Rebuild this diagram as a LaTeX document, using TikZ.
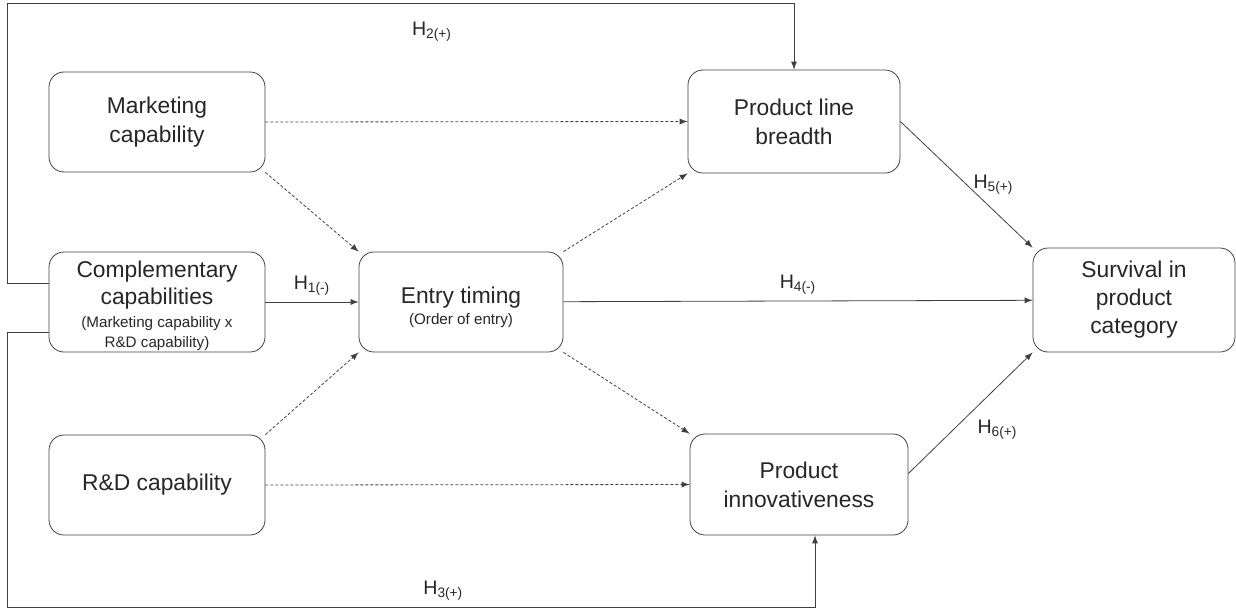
\documentclass[tikz,border=0pt]{standalone}
\usepackage{fontspec}
\setmainfont{Liberation Sans}
\usepackage{tikz}
\usetikzlibrary{arrows}

\newcommand{\smallnote}{\fontsize{7.6}{9.5}\selectfont}

\begin{document}
\begin{tikzpicture}[x=0.5pt,y=-0.5pt,
		box/.style={rectangle,draw=black!75,rounded corners=7.5pt,align=center,text=black!85,inner sep=0pt,font=\fontsize{11.4}{14.5}\selectfont},
		hlab/.style={text=black!85,font=\fontsize{9.8}{11}\selectfont},
		direct/.style={black!75,-latex},
		indirect/.style={black!75,-latex,dash pattern=on 1.5pt off 1pt}]
		\useasboundingbox (0,0) rectangle (1236,610);
%		\draw[help lines] (0,0) grid[step=50] (1236,610);
		\path (7,3) coordinate (h2turn);
		\path (7,607) coordinate (h3turn);

		\path (157,122) node(mkt) [box,minimum width=108pt,minimum height=50pt] {Marketing\\capability};
		\path (157,302) node(comp) [box,minimum width=108pt,minimum height=50pt] {\rule{0pt}{12.2pt}Complementary\\[-1pt]capabilities\\[-3pt]{\smallnote (Marketing capability x}\\[-4.5pt]{\smallnote R\&D capability)}};
		\path (157,485) node(rnd) [box,minimum width=108pt,minimum height=50pt] {R\&D capability};
		\path (461,302) node(entry) [box,minimum width=102pt,minimum height=50pt] {\rule{0pt}{13.2pt}Entry timing\\[-4pt]{\smallnote (Order of entry)}};
		\path (794,121.5) node(plb) [box,minimum width=106pt,minimum height=51.5pt] {Product line\\breadth};
		\path (799,484.5) node(innov) [box,minimum width=109pt,minimum height=50.5pt] {Product\\innovativeness};
		\path (1134,300) node(surv) [box,minimum width=101pt,minimum height=52pt] {Survival in\\[-0.5pt]product\\[-0.5pt]category};

		% indirect paths
		\draw[indirect] (mkt.east) -- (plb.west);
		\draw[indirect] (mkt.south east) -- (entry.north west);
		\draw[indirect] (rnd.north east) -- (entry.south west);
		\draw[indirect] (rnd.east) -- (innov.west);
		\draw[indirect] (entry.north east) -- (plb.south west);
		\draw[indirect] (entry.south east) -- (innov.north west);

		% hypotheses
		\draw[direct] (comp) -- node[hlab,above] {H\textsubscript{1(-)}} (entry);
		\draw[direct] ([yshift=9.5pt]comp.west) -| (h2turn) -| node[hlab,pos=0.27,below=6pt] {H\textsubscript{2(+)}} (plb.north);
		\draw[direct] ([yshift=-15pt]comp.west) -| (h3turn) -| node[hlab,pos=0.27,above] {H\textsubscript{3(+)}} ([xshift=8pt]innov.south);
		\draw[direct] (entry) -- node[hlab,above] {H\textsubscript{4(-)}} (surv);
		\draw[direct] (plb.east) -- node[hlab,right] {H\textsubscript{5(+)}} (surv.north west);
		\draw[direct] ([yshift=5.5pt]innov.east) -- node[hlab,below right] {H\textsubscript{6(+)}} (surv.south west);
	\end{tikzpicture}
\end{document}
